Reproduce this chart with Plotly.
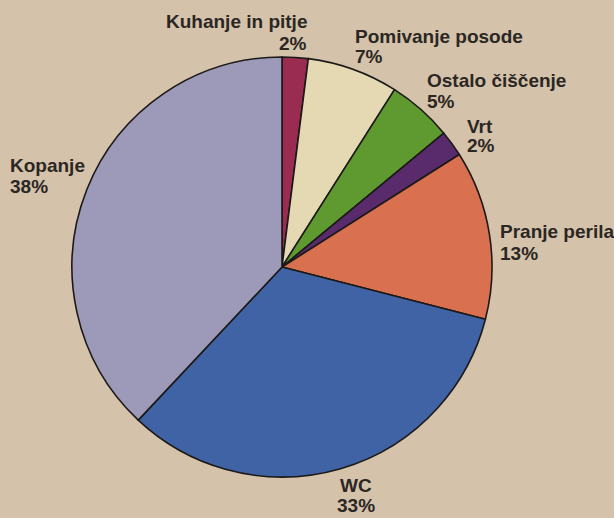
import plotly.graph_objects as go

categories = ["Kuhanje in pitje", "Pomivanje posode", "Ostalo čiščenje", "Vrt",
              "Pranje perila", "WC", "Kopanje"]
values = [2, 7, 5, 2, 13, 33, 38]
colors = ["#9a2c52", "#e4d9b2", "#5f9a30", "#5a2b6c", "#d9704f", "#3f63a5", "#9d99b9"]

W, H = 614, 518
cx, cy, r = 282, 267, 210

fig = go.Figure(go.Pie(
    labels=categories, values=values, sort=False, direction="clockwise", rotation=0,
    marker=dict(colors=colors, line=dict(color="#1c1a18", width=1.6)),
    textinfo="none", hoverinfo="label+percent", showlegend=False,
    domain=dict(x=[(cx - r) / W, (cx + r) / W], y=[1 - (cy + r) / H, 1 - (cy - r) / H]),
))

# label block positions in pixels: x, top of name line, top of percent line, anchor
label_pos = [
    (309, 9, 31, "right"),
    (353, 24, 44, "left"),
    (425, 68, 89, "left"),
    (465, 114, 133, "left"),
    (498, 219, 241, "left"),
    (356, 473, 493, "center"),
    (8, 153, 174, "left"),
]

font = dict(family="Liberation Sans, Arial, sans-serif", size=19, color="#2b2723",
            weight="bold")
annotations = []
for name, v, (px, py1, py2, anc) in zip(categories, values, label_pos):
    for txt, py in ((name, py1), (f"{v}%", py2)):
        annotations.append(dict(
            text=txt, x=px / W, y=1 - py / H, xref="paper", yref="paper",
            xanchor=anc, yanchor="top", showarrow=False, font=font,
        ))

fig.update_layout(
    width=W, height=H, margin=dict(l=0, r=0, t=0, b=0),
    paper_bgcolor="#d5c2ab", plot_bgcolor="#d5c2ab",
    annotations=annotations,
)

fig.write_html("out.html", config={"displayModeBar": False},
               post_script="document.body.style.margin='0';document.body.style.background='#d5c2ab';")
